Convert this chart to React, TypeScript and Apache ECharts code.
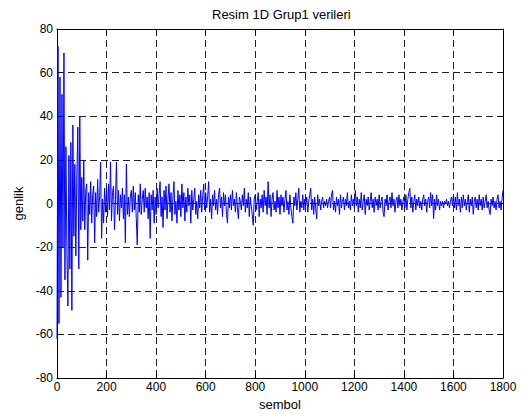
import React, { useEffect, useRef } from "react";
import * as echarts from "echarts";

const titleText = "Resim 1D Grup1 verileri";
const xName = "sembol";
const yName = "genlik";
const xTicks = [0, 200, 400, 600, 800, 1000, 1200, 1400, 1600, 1800];
const yTicks = [-80, -60, -40, -20, 0, 20, 40, 60, 80];
const STEP = 4; // sample spacing of the values below

// amplitude values, every 4th symbol (0 .. 1800)
const genlik = [
  -62, 72, -55, 58, -43, 50, -20, 69, -35, 26, -22, -47, 22, -30, 28, -49, 36, -15, 18, -24, 12, 35, -30, 40, -12,
  12, -8, 20, -12, 6, 9, -26, 5, -5, 10, -9, 4, 8, -18, 5, -6, 11, -4, 3, 19, -16, 2, -9, 7, -4,
  7, -6, 9, -3, 19, -8, 5, 8, -12, 2, 19, -5, 6, -8, 4, -2, 7, -7, 4, -18, 18, -5, 3, -6, 3,
  6, -4, 8, -3, 5, -7, -19, 4, -4, 9, -5, 2, 6, -4, 7, -2, 3, -7, 5, -16, 4, -3, 6, -9, 3,
  -5, 7, -2, 4, 10, -6, 3, -11, 6, -3, 8, -7, 2, 9, -4, 5, -8, 3, 10, -5, 1, -9, 6, -3, 4,
  -6, 9, -2, 5, -8, 3, -4, 7, -1, 4, -9, 6, -3, 2, 7, -5, 1, -7, 4, -2, 6, -4, 3, 9, -3,
  5, -2, 3, 10, -4, 2, -7, 4, -1, 6, -3, 2, -5, 4, 7, -2, 3, -6, 5, -1, 4, -5, -9, 3, -2,
  4, -3, 6, -1, 2, -4, 5, -2, -7, 3, 1, -3, 4, -1, 7, -4, 2, -2, 5, -6, 3, -1, -5, -10, 2,
  4, -3, 1, 5, -6, 2, -2, 4, -4, 6, -1, 3, -5, 10, -2, 4, -6, 2, 5, -3, 1, -4, 6, -2, 3,
  -5, 4, -1, 3, -4, 2, 6, -3, 1, -5, 4, -2, -6, -9, 3, -1, 5, -3, 2, 7, -4, 1, -2, 4, -3,
  2, -1, 3, -4, 1, 4, 7, -3, 2, -5, 3, -2, -7, 4, -1, 2, -3, 1, 3, -2, 1, -1, 2, -2, 1,
  3, -2, 4, 6, -3, 1, -4, 3, -1, 2, -5, 4, -2, 1, 3, -3, 2, -1, 5, -2, 1, -3, 4, -1, 2,
  -2, 6, -1, 3, -4, 2, -2, 5, -3, 1, 4, -5, 2, -1, 3, -3, 1, 5, -2, 2, -4, 3, -1, 2, -3,
  4, -2, 1, 3, -4, -6, 2, -1, 4, -3, 1, 3, -2, 5, -1, 2, -4, 1, 3, -2, 4, -1, 2, -3, 1,
  3, -2, 4, -3, 2, 5, 7, -2, 3, -4, 1, 4, -3, 2, -1, 3, -2, 1, -3, 2, 4, -1, 2, -4, 1,
  3, -2, 5, -1, 4, -7, 2, -3, 4, -1, 2, -3, 1, -1, 1, -2, 1, 0, 2, -1, 1, -2, 1, 3, -1,
  4, -2, 3, -3, 5, -1, 2, -4, 3, -2, 4, -1, 2, -3, 1, 4, -4, 2, -1, 3, -5, 1, 3, -2, 2,
  -3, 4, -1, 2, -3, 3, -2, 1, 4, -2, 1, -3, -5, 2, -1, 3, -2, 1, -3, 2, 4, -2, 1, -3, 2,
  6,
];

const FONT = "'Liberation Sans', Arial, Helvetica, sans-serif";

export default function App() {
  const ref = useRef<HTMLDivElement>(null);
  useEffect(() => {
    if (!ref.current) return;
    const chart = echarts.init(ref.current, null, { renderer: "svg" });
    const data = genlik.map((v, i) => [i * STEP, v]);
    const xMin = xTicks[0];
    const xMax = xTicks[xTicks.length - 1];
    const xInt = xTicks[1] - xTicks[0];
    const yMin = yTicks[0];
    const yMax = yTicks[yTicks.length - 1];
    const yInt = yTicks[1] - yTicks[0];
    const gridLine = { show: true, lineStyle: { color: "#222", width: 1, type: [7, 4] as any } };
    const frameLine = { show: true, onZero: false, lineStyle: { color: "#000", width: 1 } };
    const tick = { show: true, inside: true, length: 5, lineStyle: { color: "#000", width: 1 } };
    const plain = (v: number) => String(v);
    chart.setOption({
      animation: false,
      backgroundColor: "#fff",
      title: {
        text: titleText,
        left: 207,
        top: 3,
        textStyle: { fontFamily: FONT, fontSize: 13, fontWeight: "normal", color: "#000" },
      },
      grid: { left: 57, right: 29, top: 29, bottom: 37, containLabel: false },
      xAxis: [
        {
          type: "value",
          min: xMin,
          max: xMax,
          interval: xInt,
          name: xName,
          nameLocation: "middle",
          nameGap: 20,
          nameTextStyle: { fontFamily: FONT, fontSize: 13, color: "#000" },
          axisLine: frameLine,
          axisTick: tick,
          axisLabel: { fontFamily: FONT, fontSize: 12, color: "#000", margin: 3, formatter: plain },
          splitLine: gridLine,
        },
        {
          type: "value",
          position: "top",
          min: xMin,
          max: xMax,
          interval: xInt,
          axisLine: frameLine,
          axisTick: tick,
          axisLabel: { show: false },
          splitLine: { show: false },
        },
      ],
      yAxis: [
        {
          type: "value",
          min: yMin,
          max: yMax,
          interval: yInt,
          name: yName,
          nameLocation: "middle",
          nameGap: 31,
          nameTextStyle: { fontFamily: FONT, fontSize: 13, color: "#000" },
          axisLine: frameLine,
          axisTick: tick,
          axisLabel: { fontFamily: FONT, fontSize: 12, color: "#000", margin: 4, formatter: plain },
          splitLine: gridLine,
        },
        {
          type: "value",
          position: "right",
          min: yMin,
          max: yMax,
          interval: yInt,
          axisLine: frameLine,
          axisTick: tick,
          axisLabel: { show: false },
          splitLine: { show: false },
        },
      ],
      series: [
        {
          type: "line",
          data,
          showSymbol: false,
          symbol: "none",
          lineStyle: { color: "#0000ff", width: 1 },
          xAxisIndex: 0,
          yAxisIndex: 0,
          z: 3,
        },
      ],
    });
    return () => chart.dispose();
  }, []);
  return (
    <div
      ref={ref}
      style={{ position: "absolute", left: 0, top: 0, width: 532, height: 416, background: "#fff" }}
    />
  );
}
